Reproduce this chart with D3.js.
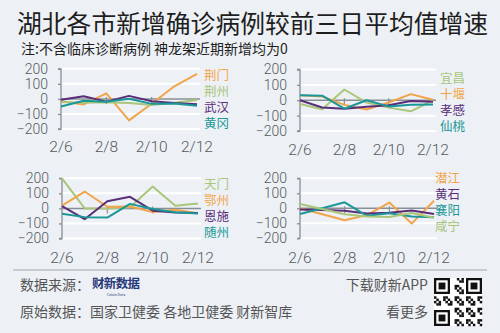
<!DOCTYPE html>
<html><head><meta charset="utf-8">
<script src="https://cdn.jsdelivr.net/npm/d3@7"></script>
<style>
html,body{margin:0;padding:0;background:#edf1f5;}
svg{display:block;}
text{font-family:"Noto Sans CJK SC","Noto Sans",sans-serif;}
.num{font-family:Roboto,"Liberation Sans",sans-serif;font-weight:300;}
</style></head>
<body>
<svg id="c" width="500" height="333"></svg>
<script>
// ---- data ----
const dates = ["2/6","2/7","2/8","2/9","2/10","2/11","2/12"];
const xTickLabels = ["2/6","2/8","2/10","2/12"];
const yTickValues = [200,100,0,-100,-200];

const panel1Names = ["荆门","荆州","武汉","黄冈"];
const jingmen = [-15,-37,37,-143,-32,84,166];
const jingzhou = [-20,-25,-22,-28,-40,-25,-8];
const wuhan = [-5,17,-18,20,-16,-28,-36];
const huanggang = [-50,-12,-19,1,-33,-30,-46];

const panel2Names = ["宜昌","十堰","孝感","仙桃"];
const yichang = [-25,-58,70,-15,-48,-72,0];
const shiyan = [33,25,-30,-60,-15,40,3];
const xiaogan = [0,-47,-55,-42,-33,-5,-10];
const xiantao = [32,30,-55,0,-40,-30,-28];

const panel3Names = ["天门","鄂州","恩施","随州"];
const tianmen = [200,0,0,8,145,17,32];
const ezhou = [18,112,11,13,-24,-9,-33];
const enshi = [15,-72,48,77,-15,-27,-31];
const suizhou = [-36,-58,-61,30,-4,-25,-34];

const panel4Names = ["潜江","黄石","襄阳","咸宁"];
const qianjiang = [0,-40,-80,-45,38,-102,50];
const huangshi = [-8,-12,-16,-35,-30,-15,-38];
const xiangyang = [-38,0,40,-50,-33,-55,-60];
const xianning = [28,-5,-40,-55,-58,-32,-63];

// ---- styles ----
const C = {orange:"#f2a44a", green:"#a9c67b", purple:"#5a2d79", teal:"#1a9798"};

const panels = [
  {names:panel1Names, series:[jingmen,jingzhou,wuhan,huanggang], colors:[C.orange,C.green,C.purple,C.teal],
   x0:61,x1:197,y0:68.8,y1:129, lx:204, ly:75.5, xly:151.5},
  {names:panel2Names, series:[yichang,shiyan,xiaogan,xiantao], colors:[C.green,C.orange,C.purple,C.teal],
   x0:300,x1:433,y0:69.5,y1:131, lx:440, ly:78.5, xly:155},
  {names:panel3Names, series:[tianmen,ezhou,enshi,suizhou], colors:[C.green,C.orange,C.purple,C.teal],
   x0:62,x1:198,y0:178.3,y1:238.5, lx:204, ly:184, xly:262.5},
  {names:panel4Names, series:[qianjiang,huangshi,xiangyang,xianning], colors:[C.orange,C.purple,C.teal,C.green],
   x0:300,x1:434,y0:178.3,y1:238.3, lx:435, ly:178.5, xly:262.5}
];

const svg = d3.select("#c");
svg.append("rect").attr("width",500).attr("height",333).attr("fill","#edf1f5");

// title
svg.append("text").attr("x",17).attr("y",33).attr("font-size",24.8).attr("fill","#1e1e1e")
  .text("湖北各市新增确诊病例较前三日平均值增速");
svg.append("text").attr("x",21).attr("y",54).attr("font-size",14).attr("fill","#1e1e1e")
  .text("注:不含临床诊断病例 神龙架近期新增均为0");

panels.forEach((p,pi)=>{
  const x = d3.scalePoint().domain(dates).range([p.x0,p.x1]);
  const y = d3.scaleLinear().domain([-200,200]).range([p.y1,p.y0]);
  const g = svg.append("g");
  // gridlines
  g.selectAll("line.grid").data(yTickValues.filter(v=>v!==0)).join("line")
    .attr("x1",p.x0).attr("x2",p.x1+3).attr("y1",d=>y(d)).attr("y2",d=>y(d))
    .attr("stroke","#ffffff").attr("stroke-width",2);
  // y axis
  const ya = g.append("g").attr("transform",`translate(${p.x0},0)`)
    .call(d3.axisLeft(y).tickValues(yTickValues).tickSize(3).tickPadding(10).tickFormat(d=>d<0?"−"+(-d):d));
  ya.select(".domain").attr("stroke","#8a8f95").attr("stroke-width",1.3).attr("d",`M-3,${y(200)}H0V${y(-200)}H-3`);
  ya.selectAll(".tick line").attr("stroke","#8a8f95").attr("stroke-width",1.3);
  ya.selectAll(".tick text").attr("class","num").attr("font-size",14).attr("fill","#555a60");
  // zero line + x ticks
  g.append("line").attr("x1",p.x0).attr("x2",p.x1+3).attr("y1",y(0)).attr("y2",y(0))
    .attr("stroke","#8a8f95").attr("stroke-width",1.5);
  g.selectAll("line.xt").data(xTickLabels.slice(1,3)).join("line")
    .attr("x1",d=>x(d)).attr("x2",d=>x(d)).attr("y1",y(0)-2).attr("y2",y(0)+5)
    .attr("stroke","#8a8f95").attr("stroke-width",1.2);
  // x labels
  g.selectAll("text.xl").data(xTickLabels).join("text").attr("class","num")
    .attr("x",d=>x(d)).attr("y",p.xly).attr("text-anchor","middle")
    .attr("font-size",15.5).attr("fill","#555a60").text(d=>d);
  // lines
  const line = d3.line().x((d,i)=>x(dates[i])).y(d=>y(d));
  p.series.forEach((s,si)=>{
    g.append("path").attr("d",line(s)).attr("fill","none")
      .attr("stroke",p.colors[si]).attr("stroke-width",2).attr("stroke-linejoin","round");
  });
  // legend
  p.names.forEach((n,si)=>{
    g.append("text").attr("x",p.lx).attr("y",p.ly+si*16).attr("dy","0.36em")
      .attr("font-size",12.5).attr("fill",p.colors[si]).text(n);
  });
});

// footer
svg.append("line").attr("x1",13).attr("x2",487).attr("y1",270).attr("y2",270)
  .attr("stroke","#a3a8ae").attr("stroke-width",1);
svg.append("text").attr("x",20).attr("y",290).attr("font-size",14).attr("fill","#555").text("数据来源：");
svg.append("text").attr("x",92).attr("y",288).attr("font-size",12.5).attr("font-weight","bold")
  .attr("fill","#27397a").attr("textLength",48).text("财新数据");
svg.append("text").attr("x",116).attr("y",296).attr("font-size",3.5).attr("text-anchor","middle")
  .attr("fill","#27397a").text("Caixin Data");
svg.append("text").attr("x",20).attr("y",317).attr("font-size",14).attr("fill","#555").text("原始数据：国家卫健委 各地卫健委 财新智库");
svg.append("text").attr("x",428).attr("y",290).attr("font-size",14).attr("text-anchor","end").attr("fill","#555").text("下载财新APP");
svg.append("text").attr("x",428).attr("y",317).attr("font-size",14).attr("text-anchor","end").attr("fill","#555").text("看更多");

// QR decoration
const qr = svg.append("g").attr("transform","translate(434,278)");
qr.append("rect").attr("width",48).attr("height",48).attr("fill","#fff");
const n = 21, cs = 48/n;
const cells = [];
for(let r=0;r<n;r++)for(let c=0;c<n;c++){
  const inFinder = (r<8&&c<8)||(r<8&&c>=n-8)||(r>=n-8&&c<8);
  if(inFinder) continue;
  if(((r*7+c*13+r*c)%5)<2) cells.push([r,c]);
}
qr.selectAll("rect.m").data(cells).join("rect").attr("x",d=>d[1]*cs).attr("y",d=>d[0]*cs)
  .attr("width",cs+0.2).attr("height",cs+0.2).attr("fill","#111");
[[0,0],[0,n-7],[n-7,0]].forEach(([r,c])=>{
  qr.append("rect").attr("x",c*cs+cs/2).attr("y",r*cs+cs/2).attr("width",6*cs).attr("height",6*cs)
    .attr("fill","none").attr("stroke","#111").attr("stroke-width",cs);
  qr.append("rect").attr("x",(c+2)*cs).attr("y",(r+2)*cs).attr("width",3*cs).attr("height",3*cs).attr("fill","#111");
});
</script>
</body></html>
